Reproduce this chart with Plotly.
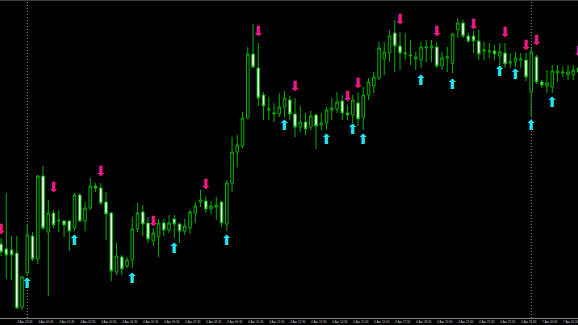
import pandas as pd
import plotly.graph_objects as go

# ---- bar times (M15): Fri 4 Apr 2025 and Mon 7 Apr 2025 ----
times = list(pd.date_range("2025-04-03 22:45", "2025-04-04 23:45", freq="15min")) + \
        list(pd.date_range("2025-04-07 00:00", periods=10, freq="15min"))
cats = [t.strftime("%Y.%m.%d %H:%M") for t in times]

open_ = [1.07086, 1.07081, 1.07080, 1.07077, 1.07023, 1.07057, 1.07094, 1.07071, 1.07154, 1.07098,
         1.07117, 1.07109, 1.07109, 1.07109, 1.07102, 1.07135, 1.07109, 1.07122, 1.07144, 1.07142,
         1.07128, 1.07117, 1.07058, 1.07073, 1.07064, 1.07070, 1.07101, 1.07118, 1.07107, 1.07089,
         1.07093, 1.07107, 1.07100, 1.07111, 1.07106, 1.07099, 1.07102, 1.07117, 1.07128, 1.07129,
         1.07121, 1.07123, 1.07128, 1.07106, 1.07147, 1.07178, 1.07184, 1.07212, 1.07276, 1.07262,
         1.07235, 1.07220, 1.07216, 1.07216, 1.07223, 1.07230, 1.07216, 1.07203, 1.07208, 1.07203,
         1.07215, 1.07205, 1.07207, 1.07220, 1.07221, 1.07229, 1.07217, 1.07215, 1.07227, 1.07213,
         1.07235, 1.07244, 1.07252, 1.07271, 1.07277, 1.07297, 1.07284, 1.07276, 1.07274, 1.07271,
         1.07270, 1.07282, 1.07282, 1.07283, 1.07264, 1.07272, 1.07267, 1.07300, 1.07307, 1.07294,
         1.07294, 1.07289, 1.07279, 1.07278, 1.07279, 1.07274, 1.07277, 1.07267, 1.07268, 1.07270,
         1.07270, 1.07238, 1.07273, 1.07248, 1.07244, 1.07243, 1.07257, 1.07257, 1.07255, 1.07255,
         1.07262]

high = [1.07092, 1.07137, 1.07094, 1.07094, 1.07054, 1.07106, 1.07098, 1.07155, 1.07164, 1.07130,
        1.07120, 1.07120, 1.07110, 1.07110, 1.07137, 1.07137, 1.07128, 1.07152, 1.07147, 1.07147,
        1.07138, 1.07118, 1.07087, 1.07075, 1.07073, 1.07113, 1.07127, 1.07125, 1.07113, 1.07102,
        1.07111, 1.07111, 1.07115, 1.07115, 1.07107, 1.07111, 1.07120, 1.07128, 1.07140, 1.07134,
        1.07129, 1.07133, 1.07129, 1.07150, 1.07193, 1.07195, 1.07218, 1.07283, 1.07306, 1.07287,
        1.07238, 1.07233, 1.07227, 1.07237, 1.07239, 1.07234, 1.07232, 1.07224, 1.07217, 1.07219,
        1.07216, 1.07217, 1.07223, 1.07232, 1.07238, 1.07235, 1.07225, 1.07235, 1.07238, 1.07243,
        1.07252, 1.07258, 1.07288, 1.07288, 1.07300, 1.07310, 1.07298, 1.07297, 1.07290, 1.07278,
        1.07288, 1.07290, 1.07290, 1.07288, 1.07278, 1.07283, 1.07297, 1.07312, 1.07310, 1.07297,
        1.07299, 1.07300, 1.07288, 1.07287, 1.07285, 1.07287, 1.07287, 1.07277, 1.07278, 1.07277,
        1.07277, 1.07283, 1.07275, 1.07250, 1.07260, 1.07265, 1.07265, 1.07263, 1.07265, 1.07265,
        1.07264]

low = [1.07074, 1.07051, 1.07050, 1.07021, 1.07020, 1.07055, 1.07069, 1.07066, 1.07100, 1.07034,
       1.07102, 1.07098, 1.07093, 1.07079, 1.07099, 1.07108, 1.07099, 1.07120, 1.07138, 1.07125,
       1.07090, 1.07049, 1.07055, 1.07055, 1.07062, 1.07062, 1.07098, 1.07094, 1.07087, 1.07084,
       1.07073, 1.07094, 1.07097, 1.07092, 1.07087, 1.07095, 1.07096, 1.07107, 1.07123, 1.07117,
       1.07116, 1.07110, 1.07103, 1.07099, 1.07138, 1.07163, 1.07182, 1.07211, 1.07262, 1.07224,
       1.07210, 1.07210, 1.07208, 1.07213, 1.07213, 1.07210, 1.07193, 1.07198, 1.07195, 1.07200,
       1.07181, 1.07200, 1.07200, 1.07210, 1.07217, 1.07210, 1.07210, 1.07207, 1.07204, 1.07200,
       1.07230, 1.07237, 1.07250, 1.07255, 1.07268, 1.07258, 1.07260, 1.07270, 1.07265, 1.07260,
       1.07262, 1.07268, 1.07268, 1.07262, 1.07260, 1.07258, 1.07257, 1.07292, 1.07292, 1.07287,
       1.07277, 1.07270, 1.07270, 1.07272, 1.07270, 1.07262, 1.07262, 1.07262, 1.07263, 1.07262,
       1.07249, 1.07213, 1.07246, 1.07242, 1.07237, 1.07237, 1.07248, 1.07253, 1.07250, 1.07250,
       1.07254]

close = [1.07078, 1.07075, 1.07075, 1.07022, 1.07053, 1.07095, 1.07071, 1.07154, 1.07102, 1.07117,
         1.07105, 1.07110, 1.07105, 1.07099, 1.07135, 1.07109, 1.07122, 1.07144, 1.07142, 1.07127,
         1.07116, 1.07059, 1.07074, 1.07061, 1.07070, 1.07101, 1.07117, 1.07106, 1.07091, 1.07097,
         1.07107, 1.07100, 1.07107, 1.07106, 1.07099, 1.07104, 1.07118, 1.07124, 1.07130, 1.07121,
         1.07124, 1.07125, 1.07107, 1.07147, 1.07178, 1.07185, 1.07212, 1.07276, 1.07263, 1.07232,
         1.07224, 1.07221, 1.07217, 1.07223, 1.07232, 1.07216, 1.07203, 1.07208, 1.07201, 1.07214,
         1.07204, 1.07207, 1.07220, 1.07222, 1.07228, 1.07217, 1.07215, 1.07230, 1.07211, 1.07235,
         1.07248, 1.07253, 1.07282, 1.07278, 1.07294, 1.07284, 1.07277, 1.07277, 1.07275, 1.07273,
         1.07283, 1.07283, 1.07284, 1.07264, 1.07272, 1.07273, 1.07296, 1.07307, 1.07294, 1.07289,
         1.07289, 1.07276, 1.07280, 1.07279, 1.07276, 1.07278, 1.07266, 1.07268, 1.07272, 1.07271,
         1.07253, 1.07278, 1.07248, 1.07245, 1.07247, 1.07259, 1.07259, 1.07258, 1.07258, 1.07260,
         1.07258]

# signal arrows (bar index, price)
down_arrow_bars = [0, 10, 19, 29, 39, 49, 56, 66, 68, 76, 83, 90, 96, 100, 102, 110]
down_arrow_prices = [1.07100, 1.07142, 1.07158, 1.07108, 1.07145, 1.07298, 1.07243, 1.07233,
                     1.07246, 1.07310, 1.07298, 1.07305, 1.07297, 1.07284, 1.07289, 1.07278]
up_arrow_bars = [5, 14, 25, 33, 43, 54, 62, 67, 69, 80, 86, 95, 98, 101, 105]
up_arrow_prices = [1.07046, 1.07089, 1.07051, 1.07081, 1.07089, 1.07204, 1.07190, 1.07200,
                   1.07190, 1.07249, 1.07245, 1.07258, 1.07255, 1.07204, 1.07227]

tick_bars = list(range(3, len(cats), 4))
tick_text = [f"{times[i].day} {times[i]:%b %H:%M}" for i in tick_bars]

GREEN = "#00b000"
PINK = "#f0198c"
CYAN = "#22e6f0"
fig = go.Figure()
fig.add_trace(go.Candlestick(
    x=cats, open=open_, high=high, low=low, close=close,
    increasing=dict(line=dict(color=GREEN, width=1), fillcolor="#000000"),
    decreasing=dict(line=dict(color=GREEN, width=1), fillcolor="#ffffff"),
    whiskerwidth=0, showlegend=False, hoverinfo="skip",
))
fig.add_trace(go.Scatter(
    x=[cats[i] for i in down_arrow_bars], y=down_arrow_prices, mode="text",
    text=["⬇"] * len(down_arrow_bars), textposition="middle center",
    textfont=dict(color=PINK, size=14, family="DejaVu Sans"),
    showlegend=False, hoverinfo="skip",
))
fig.add_trace(go.Scatter(
    x=[cats[i] for i in up_arrow_bars], y=up_arrow_prices, mode="text",
    text=["⬆"] * len(up_arrow_bars), textposition="middle center",
    textfont=dict(color=CYAN, size=14, family="DejaVu Sans"),
    showlegend=False, hoverinfo="skip",
))

# day separators
shapes = []
for i in range(1, len(times)):
    if times[i].date() != times[i - 1].date() and times[i].hour == 0 and times[i].minute == 0:
        shapes.append(dict(type="line", xref="x", yref="paper", x0=cats[i], x1=cats[i], y0=0, y1=1,
                           line=dict(color="#8c8c8c", width=1, dash="1px,2px"), layer="below"))
shapes.append(dict(type="line", xref="paper", yref="paper", x0=0, x1=1, y0=1, y1=1,
                   line=dict(color="#3c3c3c", width=2)))
fig.update_layout(
    width=578, height=325, autosize=False,
    margin=dict(l=0, r=0, t=0, b=7),
    paper_bgcolor="#000000", plot_bgcolor="#000000",
    shapes=shapes,
    xaxis=dict(type="category", range=[-0.2, 109.9], rangeslider=dict(visible=False),
               showgrid=False, zeroline=False, showline=True, linecolor="#808080", linewidth=1,
               tickmode="array", tickvals=[cats[i] for i in tick_bars], ticktext=tick_text,
               ticks="", ticklabelshift=8, tickangle=0,
               tickfont=dict(size=3, color="#c8c8d2", family="Liberation Sans")),
    yaxis=dict(range=[1.07012, 1.07330], showgrid=False, zeroline=False,
               showticklabels=False, showline=False, ticks=""),
)
fig.write_html("out.html", config={"displayModeBar": False})
